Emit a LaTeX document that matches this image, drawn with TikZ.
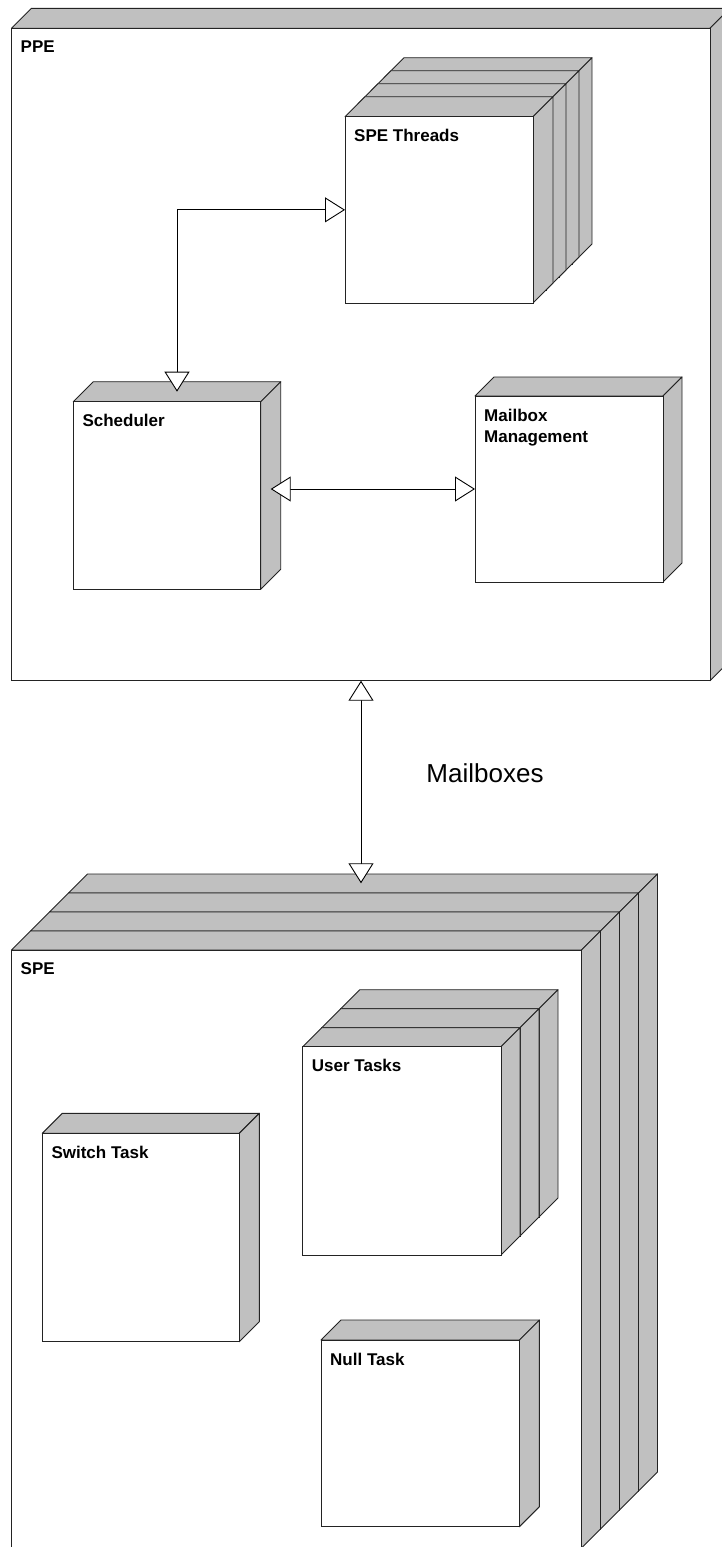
\documentclass[tikz,border=0pt]{standalone}
\usepackage{fontspec}
\setmainfont{Liberation Sans}
\usetikzlibrary{arrows.meta,calc}

\definecolor{facegray}{RGB}{192,192,192}
\definecolor{edgegray}{RGB}{35,35,35}

\tikzset{
  % grey top and side faces of a deployment box
  face/.style={draw=edgegray, fill=facegray, line width=0.9pt, line join=round},
  front/.style={draw=edgegray, fill=white, line width=0.9pt, inner sep=0pt, outer sep=0pt},
  boxlabel/.style={font=\fontsize{17}{21.5}\selectfont\bfseries, anchor=north west, inner sep=0pt, align=left},
  opentip/.tip={Triangle[fill=white, length=20pt, width=25pt]},
  link/.style={draw=black, line width=0.9pt, opentip-opentip},
}

% #1 name, #2 x, #3 y, #4 width, #5 height, #6 depth, #7 layers, #8 layer offset, #9 label
\newcommand{\unitbox}[9]{%
  \foreach \k in {#7,...,1}{%
    \pgfmathsetmacro{\bx}{#2+(\k-1)*#8}%
    \pgfmathsetmacro{\by}{#3-(\k-1)*#8}%
    \draw[face] (\bx,\by) -- ++(#6,-#6) -- ++(#4,0) -- ++(-#6,#6) -- cycle;
    \draw[face] (\bx+#4,\by) -- ++(#6,-#6) -- ++(0,#5) -- ++(-#6,#6) -- cycle;
    \ifnum\k>1 \draw[front] (\bx,\by) rectangle ++(#4,#5);\fi
  }
  \node[front, minimum width=#4, minimum height=#5, anchor=north west] (#1) at (#2,#3) {};
  \coordinate (#1-top) at ($(#1.north)+(#6/2,-#6/2)$);
  \coordinate (#1-side) at ($(#1.east)+(#6/2,-#6/2)$);
  \node[boxlabel] (#1-label) at ($(#1.north west)+(9,12.6)$) {#9};
}

\begin{document}
\begin{tikzpicture}[x=1pt,y=1pt,yscale=-1]
\useasboundingbox (0,0) rectangle (722,1547);
\clip (0,0) rectangle (722,1547);

% PPE side
\unitbox{ppe}{11.5}{28.3}{698.5}{652.4}{20}{1}{0}{PPE}
\unitbox{threads}{345}{116.7}{188}{186.3}{20}{4}{13}{SPE Threads}
\unitbox{sched}{73.3}{401.7}{187.4}{187.6}{20}{1}{0}{Scheduler}
\unitbox{mailbox}{475}{396}{188}{186}{19}{1}{0}{Mailbox\\Management}

% SPE side
\unitbox{spe}{11.5}{950}{570}{598}{19}{4}{19}{SPE}
\unitbox{usertasks}{302.7}{1046.7}{198.3}{208.3}{19}{3}{19}{User Tasks}
\unitbox{switchtask}{42.3}{1133.3}{197}{208.4}{20}{1}{0}{Switch Task}
\unitbox{nulltask}{321}{1340}{198.4}{186.7}{20}{1}{0}{Null Task}

% connectors
\coordinate (mbx) at (361,883.3);
\draw[link] (mbx |- ppe.south) -- (mbx);
\node[font=\fontsize{26}{30}\selectfont] (mbxlabel) at (485,773) {Mailboxes};

\draw[link] (sched-top) |- (threads.west);
\draw[link] (sched-side |- mailbox.west) -- (mailbox.west);

\end{tikzpicture}
\end{document}
